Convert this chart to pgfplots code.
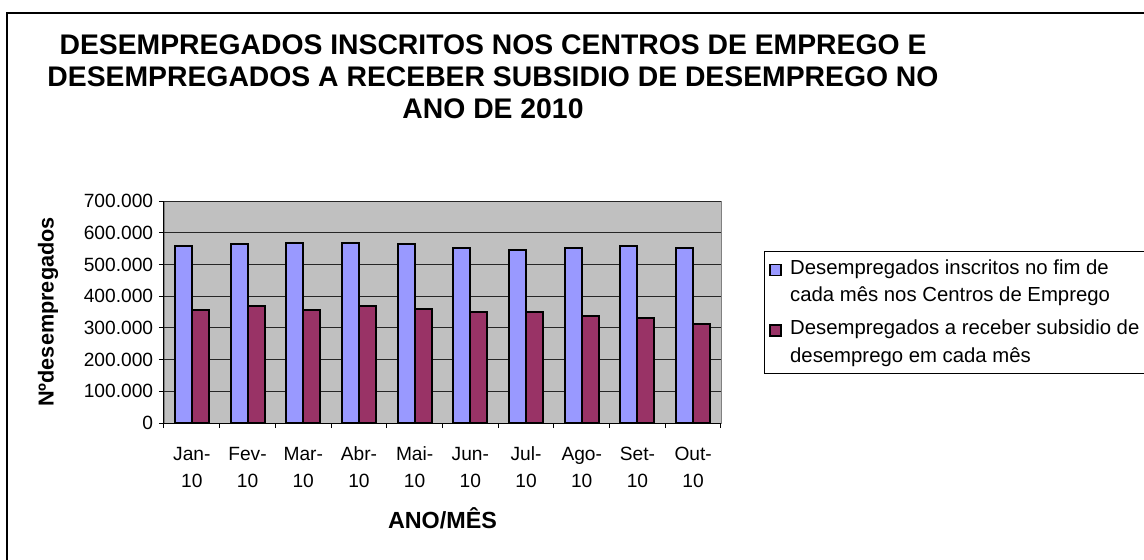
\documentclass[border=0pt]{standalone}
\usepackage{pgfplots}
\pgfplotsset{compat=1.18}
\usepackage{fontspec}
\setmainfont{Liberation Sans}
\definecolor{barblue}{HTML}{9999FF}
\definecolor{barred}{HTML}{993366}
\definecolor{plotbg}{HTML}{C0C0C0}
\begin{document}
\begin{tikzpicture}[x=0.6pt,y=0.6pt]
\useasboundingbox (0,0) rectangle (1144,559);
\draw[line width=1.2pt] (7,-10) -- (7,546) -- (1160,546);
\node[align=center, font=\bfseries\fontsize{17}{19.2}\selectfont] at (493,482)
  {DESEMPREGADOS INSCRITOS NOS CENTROS DE EMPREGO E\\DESEMPREGADOS A RECEBER SUBSIDIO DE DESEMPREGO NO\\ANO DE 2010};
\begin{axis}[
  at={(98.4pt,81.6pt)}, anchor=south west,
  scale only axis, width=334.2pt, height=133.2pt,
  xmin=-0.5, xmax=9.5, ymin=0, ymax=700000,
  ybar=0pt, bar width=10.2pt,
  axis background/.style={fill=plotbg, draw=gray},
  axis x line*=bottom, axis y line*=left,
  axis line style={black, line width=0.6pt},
  xtick={0,...,9},
  xticklabels={{Jan-\\10},{Fev-\\10},{Mar-\\10},{Abr-\\10},{Mai-\\10},{Jun-\\10},{Jul-\\10},{Ago-\\10},{Set-\\10},{Out-\\10}},
  major x tick style={draw=none},
  minor xtick={-0.5,0.5,...,9.5},
  tick align=outside, major tick length=3pt, minor tick length=3pt,
  tick style={black, line width=0.6pt},
  ytick={0,100000,200000,300000,400000,500000,600000,700000},
  ymajorgrids, major grid style={black!85, line width=0.5pt},
  scaled y ticks=false,
  yticklabel style={/pgf/number format/.cd, fixed, 1000 sep={.}, assume math mode=true},
  tick label style={font=\fontsize{11.5}{16.2}\selectfont},
  xticklabel style={align=center, yshift=-7.8pt},
  ylabel={Nºdesempregados},
  ylabel style={at={(axis description cs:-0.208,0.5)}, anchor=center, font=\bfseries\fontsize{13}{15}\selectfont},
  xlabel={ANO/MÊS},
  xlabel style={at={(axis description cs:0.5,-0.43)}, anchor=center, font=\bfseries\fontsize{14}{16}\selectfont},
  legend style={at={(axis description cs:1.0772,0.7748)}, anchor=north west, draw=black, line width=0.6pt,
    font=\fontsize{12.2}{16.4}\selectfont, nodes={align=left}, row sep=5.5pt, column sep=3pt, inner sep=3pt},
  legend cell align=left,
  legend image code/.code={\draw[#1, line width=0.8pt] (0pt,3.9pt) rectangle (6.6pt,10.5pt);},
]
\addplot[fill=barblue, draw=black, line width=1.2pt] coordinates {
(0,557000) (1,564000) (2,569000) (3,569000) (4,564000) (5,551000) (6,546000) (7,551000) (8,557000) (9,551000)};
\addlegendentry{Desempregados inscritos no fim de\\cada mês nos Centros de Emprego}
\addplot[fill=barred, draw=black, line width=1.2pt] coordinates {
(0,355000) (1,368000) (2,355000) (3,368000) (4,361000) (5,349000) (6,349000) (7,337000) (8,332000) (9,313000)};
\addlegendentry{Desempregados a receber subsidio de\\desemprego em cada mês}
\end{axis}
\end{tikzpicture}
\end{document}
